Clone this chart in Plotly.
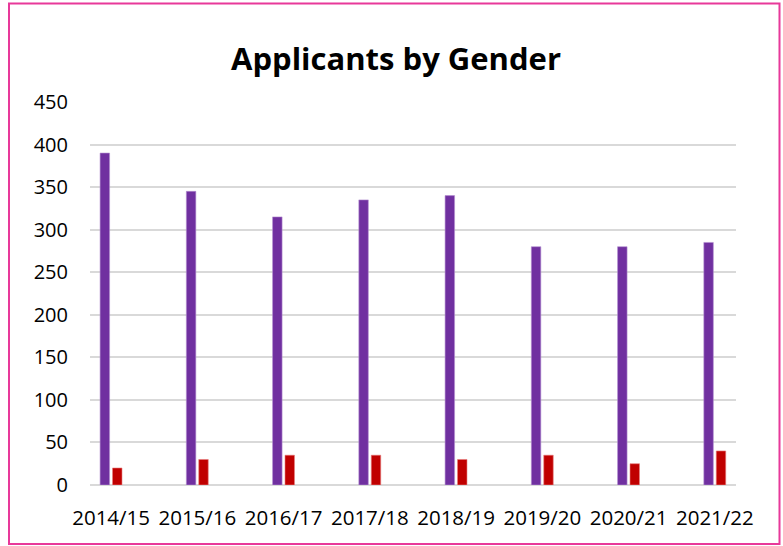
import plotly.graph_objects as go

years = ["2014/15", "2015/16", "2016/17", "2017/18", "2018/19", "2019/20", "2020/21", "2021/22"]
series_a = [390, 345, 315, 335, 340, 280, 280, 285]
series_b = [20, 30, 35, 35, 30, 35, 25, 40]
y_ticks = [0, 50, 100, 150, 200, 250, 300, 350, 400, 450]

FONT = "Open Sans"
W, H = 783, 546
L, R, T, B = 90, 47, 102, 61
pw, ph = W - L - R, H - T - B

fig = go.Figure()
fig.add_trace(go.Bar(x=years, y=series_a, width=0.11, offset=-0.128,
                     marker=dict(color="#7030A0", line=dict(color="#B48ED0", width=0.6)),
                     showlegend=False))
fig.add_trace(go.Bar(x=years, y=series_b, width=0.11, offset=0.016,
                     marker=dict(color="#C00000", line=dict(color="#E88080", width=0.6)),
                     showlegend=False))

def px(x):
    return (x - L) / pw

def py(y):
    return (H - B - y) / ph

fig.add_shape(type="rect", xref="paper", yref="paper",
              x0=px(9), x1=px(779.5), y0=py(544), y1=py(3.5),
              line=dict(color="#E8399A", width=2), fillcolor="rgba(0,0,0,0)", layer="above")

fig.update_layout(
    width=W, height=H,
    margin=dict(l=L, r=R, t=T, b=B, autoexpand=False),
    paper_bgcolor="white", plot_bgcolor="white",
    barmode="overlay",
    title=dict(text="<b>Applicants by Gender</b>", x=396 / W, xanchor="center",
               y=1 - 59 / H, yanchor="middle",
               font=dict(family=FONT, size=31, color="black")),
    font=dict(family=FONT, size=20, color="black"),
    xaxis=dict(type="category", range=[-0.245, 7.245], showgrid=False,
               showline=False, ticks="", tickfont=dict(size=20.5), ticklabelstandoff=18),
    yaxis=dict(range=[0, 450], tickvals=y_ticks, showgrid=True, gridcolor="#D9D9D9",
               gridwidth=2, zeroline=True, zerolinecolor="#D9D9D9", zerolinewidth=2,
               showline=False, ticks="", tickfont=dict(size=20), ticklabelstandoff=21),
)

fig.write_html("out.html", config={"displayModeBar": False},
               post_script="document.body.style.margin='0';document.body.style.overflow='hidden';")
